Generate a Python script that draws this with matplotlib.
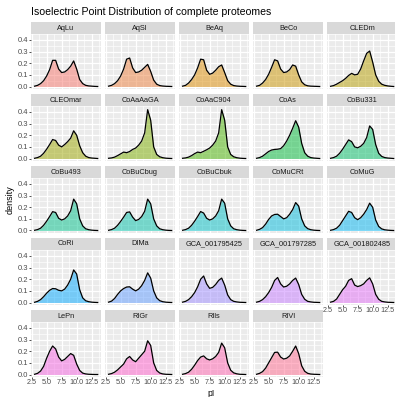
import numpy as np
import matplotlib
matplotlib.use("Agg")
import matplotlib.pyplot as plt

plt.rcParams['font.family'] = ['Liberation Sans', 'DejaVu Sans']

title = "Isoelectric Point Distribution of complete proteomes"
x_label = "pI"
y_label = "density"

species = ["AqLu", "AqSl", "BeAq", "BeCo", "CLEDm",
           "CLEOmar", "CoAaAaGA", "CoAaC904", "CoAs", "CoBu331",
           "CoBu493", "CoBuCbug", "CoBuCbuk", "CoMuCRt", "CoMuG",
           "CoRi", "DIMa", "GCA_001795425", "GCA_001797285", "GCA_001802485",
           "LePn", "RIGr", "RIls", "RIVI"]

# pI grid at which density values were read (3.0 .. 13.5, step 0.5)
pI_grid = [3.0, 3.5, 4.0, 4.5, 5.0, 5.5, 6.0, 6.5, 7.0, 7.5, 8.0,
           8.5, 9.0, 9.5, 10.0, 10.5, 11.0, 11.5, 12.0, 12.5, 13.0, 13.5]

dens_AqLu = [0.003, 0.01, 0.025, 0.05, 0.09, 0.145, 0.225, 0.225, 0.15, 0.12, 0.125,
             0.145, 0.175, 0.22, 0.15, 0.06, 0.025, 0.01, 0.005, 0.003, 0.001, 0.0]
dens_AqSl = [0.003, 0.01, 0.025, 0.05, 0.09, 0.15, 0.235, 0.245, 0.16, 0.12, 0.125,
             0.14, 0.165, 0.19, 0.13, 0.055, 0.02, 0.008, 0.004, 0.002, 0.001, 0.0]
dens_BeAq = [0.003, 0.01, 0.03, 0.06, 0.1, 0.16, 0.235, 0.23, 0.14, 0.105, 0.115,
             0.14, 0.17, 0.185, 0.12, 0.05, 0.02, 0.008, 0.004, 0.002, 0.001, 0.0]
dens_BeCo = [0.003, 0.01, 0.03, 0.06, 0.105, 0.165, 0.23, 0.22, 0.15, 0.12, 0.125,
             0.145, 0.185, 0.175, 0.1, 0.04, 0.015, 0.006, 0.003, 0.002, 0.001, 0.0]
dens_CLEDm = [0.002, 0.008, 0.02, 0.035, 0.05, 0.07, 0.095, 0.113, 0.1, 0.105, 0.15,
              0.22, 0.285, 0.305, 0.21, 0.1, 0.045, 0.02, 0.01, 0.005, 0.002, 0.0]
dens_CLEOmar = [0.002, 0.008, 0.02, 0.045, 0.08, 0.12, 0.163, 0.155, 0.115, 0.1, 0.12,
                0.145, 0.175, 0.238, 0.2, 0.11, 0.05, 0.02, 0.008, 0.004, 0.002, 0.0]
dens_CoAaAaGA = [0.002, 0.005, 0.012, 0.025, 0.04, 0.055, 0.05, 0.06, 0.078, 0.09, 0.115,
                 0.15, 0.22, 0.42, 0.33, 0.1, 0.035, 0.015, 0.007, 0.003, 0.001, 0.0]
dens_CoAaC904 = [0.002, 0.005, 0.012, 0.025, 0.042, 0.055, 0.05, 0.062, 0.075, 0.09, 0.115,
                 0.15, 0.22, 0.42, 0.33, 0.1, 0.035, 0.015, 0.007, 0.003, 0.001, 0.0]
dens_CoAs = [0.002, 0.008, 0.02, 0.04, 0.06, 0.073, 0.078, 0.08, 0.085, 0.11, 0.15,
             0.2, 0.26, 0.325, 0.27, 0.13, 0.05, 0.02, 0.008, 0.004, 0.002, 0.0]
dens_CoBu331 = [0.002, 0.008, 0.02, 0.045, 0.08, 0.12, 0.16, 0.145, 0.1, 0.092, 0.105,
                0.13, 0.18, 0.28, 0.25, 0.12, 0.045, 0.018, 0.008, 0.004, 0.002, 0.0]
dens_CoBu493 = [0.002, 0.008, 0.02, 0.045, 0.08, 0.12, 0.162, 0.155, 0.105, 0.09, 0.1,
                0.125, 0.17, 0.27, 0.23, 0.1, 0.04, 0.015, 0.007, 0.003, 0.001, 0.0]
dens_CoBuCbug = [0.002, 0.008, 0.02, 0.045, 0.078, 0.115, 0.155, 0.16, 0.115, 0.085, 0.095,
                 0.12, 0.165, 0.27, 0.23, 0.1, 0.04, 0.015, 0.007, 0.003, 0.001, 0.0]
dens_CoBuCbuk = [0.002, 0.008, 0.02, 0.045, 0.08, 0.12, 0.163, 0.15, 0.105, 0.09, 0.1,
                 0.125, 0.17, 0.27, 0.235, 0.1, 0.04, 0.015, 0.007, 0.003, 0.001, 0.0]
dens_CoMuCRt = [0.002, 0.01, 0.025, 0.055, 0.095, 0.125, 0.138, 0.14, 0.12, 0.1, 0.11,
                0.14, 0.18, 0.24, 0.21, 0.1, 0.04, 0.016, 0.007, 0.003, 0.001, 0.0]
dens_CoMuG = [0.002, 0.008, 0.02, 0.045, 0.085, 0.125, 0.165, 0.155, 0.11, 0.093, 0.11,
              0.14, 0.18, 0.235, 0.2, 0.09, 0.035, 0.014, 0.006, 0.003, 0.001, 0.0]
dens_CoRi = [0.002, 0.01, 0.025, 0.05, 0.08, 0.105, 0.12, 0.118, 0.105, 0.1, 0.115,
             0.15, 0.2, 0.28, 0.245, 0.11, 0.04, 0.015, 0.007, 0.003, 0.001, 0.0]
dens_DIMa = [0.003, 0.012, 0.035, 0.07, 0.1, 0.12, 0.133, 0.135, 0.115, 0.1, 0.115,
             0.145, 0.19, 0.255, 0.21, 0.1, 0.04, 0.016, 0.007, 0.003, 0.001, 0.0]
dens_GCA_001795425 = [0.003, 0.01, 0.025, 0.05, 0.085, 0.135, 0.2, 0.228, 0.16, 0.122, 0.13,
                      0.155, 0.19, 0.21, 0.15, 0.065, 0.025, 0.01, 0.005, 0.002, 0.001, 0.0]
dens_GCA_001797285 = [0.003, 0.01, 0.025, 0.05, 0.085, 0.13, 0.19, 0.215, 0.16, 0.133, 0.14,
                      0.16, 0.19, 0.21, 0.155, 0.07, 0.028, 0.01, 0.005, 0.002, 0.001, 0.0]
dens_GCA_001802485 = [0.003, 0.01, 0.03, 0.07, 0.11, 0.14, 0.19, 0.205, 0.15, 0.137, 0.145,
                      0.16, 0.19, 0.212, 0.16, 0.07, 0.028, 0.01, 0.005, 0.002, 0.001, 0.0]
dens_LePn = [0.002, 0.01, 0.03, 0.07, 0.14, 0.2, 0.245, 0.22, 0.15, 0.117, 0.13,
             0.155, 0.18, 0.165, 0.09, 0.035, 0.012, 0.005, 0.002, 0.001, 0.0, 0.0]
dens_RIGr = [0.002, 0.008, 0.02, 0.04, 0.065, 0.09, 0.135, 0.155, 0.125, 0.11, 0.14,
             0.17, 0.2, 0.29, 0.25, 0.1, 0.035, 0.013, 0.005, 0.002, 0.001, 0.0]
dens_RIls = [0.002, 0.008, 0.02, 0.045, 0.08, 0.12, 0.15, 0.16, 0.135, 0.125, 0.135,
             0.155, 0.19, 0.27, 0.23, 0.1, 0.037, 0.014, 0.006, 0.002, 0.001, 0.0]
dens_RIVI = [0.002, 0.01, 0.025, 0.055, 0.1, 0.145, 0.19, 0.192, 0.15, 0.133, 0.14,
             0.16, 0.2, 0.245, 0.18, 0.075, 0.028, 0.01, 0.004, 0.002, 0.001, 0.0]

densities = [dens_AqLu, dens_AqSl, dens_BeAq, dens_BeCo, dens_CLEDm,
             dens_CLEOmar, dens_CoAaAaGA, dens_CoAaC904, dens_CoAs, dens_CoBu331,
             dens_CoBu493, dens_CoBuCbug, dens_CoBuCbuk, dens_CoMuCRt, dens_CoMuG,
             dens_CoRi, dens_DIMa, dens_GCA_001795425, dens_GCA_001797285, dens_GCA_001802485,
             dens_LePn, dens_RIGr, dens_RIls, dens_RIVI]

x_ticks = [2.5, 5.0, 7.5, 10.0, 12.5]
x_tick_labels = ["2.5", "5.0", "7.5", "10.0", "12.5"]
y_ticks = [0.0, 0.1, 0.2, 0.3, 0.4]
y_tick_labels = ["0.0", "0.1", "0.2", "0.3", "0.4"]


def hcl_to_rgb(h, c=100.0, l=65.0):
    hr = np.deg2rad(h)
    u = c * np.cos(hr)
    v = c * np.sin(hr)
    Xn, Yn, Zn = 95.047, 100.0, 108.883
    un = 4 * Xn / (Xn + 15 * Yn + 3 * Zn)
    vn = 9 * Yn / (Xn + 15 * Yn + 3 * Zn)
    Y = Yn * ((l + 16) / 116) ** 3
    up = u / (13 * l) + un
    vp = v / (13 * l) + vn
    X = Y * 9 * up / (4 * vp)
    Z = Y * (12 - 3 * up - 20 * vp) / (4 * vp)
    X, Y, Z = X / 100, Y / 100, Z / 100
    r = 3.2404542 * X - 1.5371385 * Y - 0.4985314 * Z
    g = -0.9692660 * X + 1.8760108 * Y + 0.0415560 * Z
    b = 0.0556434 * X - 0.2040259 * Y + 1.0572252 * Z

    def gam(t):
        t = min(max(t, 0.0), 1.0)
        return 12.92 * t if t <= 0.0031308 else 1.055 * t ** (1 / 2.4) - 0.055
    return (gam(r), gam(g), gam(b))


n = len(species)
hues = np.linspace(15, 375, n + 1)[:n]
colors = [hcl_to_rgb(h) for h in hues]

W, H = 395, 397
fig = plt.figure(figsize=(W / 100, H / 100), dpi=100)
fig.patch.set_facecolor("white")

col_left0 = 31.0
col_pitch = 74.0
panel_w = 70.0
row_top0 = 22.0
row_pitch = 72.0
strip_h = 12.0
plot_h = 55.0

xlim = (2.4, 14.05)
ylim = (-0.0215, 0.4515)

tick_col = "#333333"
lab_col = "#4D4D4D"

for i, (name, dens) in enumerate(zip(species, densities)):
    r, c = divmod(i, 5)
    left = col_left0 + c * col_pitch
    stop = row_top0 + r * row_pitch
    ptop = stop + strip_h
    pbot = ptop + plot_h
    ax = fig.add_axes([left / W, 1 - pbot / H, panel_w / W, plot_h / H])
    ax.set_facecolor("#EBEBEB")
    for s in ax.spines.values():
        s.set_visible(False)
    ax.set_xlim(*xlim)
    ax.set_ylim(*ylim)
    ax.set_xticks(x_ticks)
    ax.set_yticks(y_ticks)
    ax.set_xticks([3.75, 6.25, 8.75, 11.25, 13.75], minor=True)
    ax.set_yticks([0.05, 0.15, 0.25, 0.35, 0.45], minor=True)
    ax.grid(True, which="major", color="white", linewidth=0.9)
    ax.grid(True, which="minor", color="white", linewidth=0.45)
    ax.set_axisbelow(True)
    ax.tick_params(which="minor", length=0)
    show_x = (r == 4) or (i == 19)
    show_y = (c == 0)
    ax.tick_params(axis="x", which="major", length=1.2 if show_x else 0, width=0.6,
                   color=tick_col, labelsize=5.2, labelcolor=lab_col, pad=0.0,
                   labelbottom=show_x)
    ax.tick_params(axis="y", which="major", length=1.5 if show_y else 0, width=0.6,
                   color=tick_col, labelsize=5.5, labelcolor=lab_col, pad=0.8,
                   labelleft=show_y)
    if show_x:
        ax.set_xticklabels(x_tick_labels)
    if show_y:
        ax.set_yticklabels(y_tick_labels)
    ax.fill_between(pI_grid, 0, dens, color=colors[i], alpha=0.5, linewidth=0)
    ax.plot(pI_grid, dens, color="black", linewidth=0.9, solid_joinstyle="round")

    sax = fig.add_axes([left / W, 1 - ptop / H, panel_w / W, strip_h / H])
    sax.set_facecolor("#D9D9D9")
    sax.set_xticks([])
    sax.set_yticks([])
    for s in sax.spines.values():
        s.set_visible(False)
    sax.text(0.5, 0.5, name, ha="center", va="center", fontsize=5.3,
             color="#1A1A1A", transform=sax.transAxes)

fig.text(col_left0 / W, 1 - 12 / H, title, ha="left", va="center",
         fontsize=7.6, color="black")
fig.text(10 / W, 1 - 200 / H, y_label, ha="center", va="center",
         rotation=90, fontsize=6.5, color="black")
fig.text(211 / W, 1 - 397.5 / H, x_label, ha="center", va="bottom",
         fontsize=6.2, color="black")

fig.savefig("out.png", dpi=100)
